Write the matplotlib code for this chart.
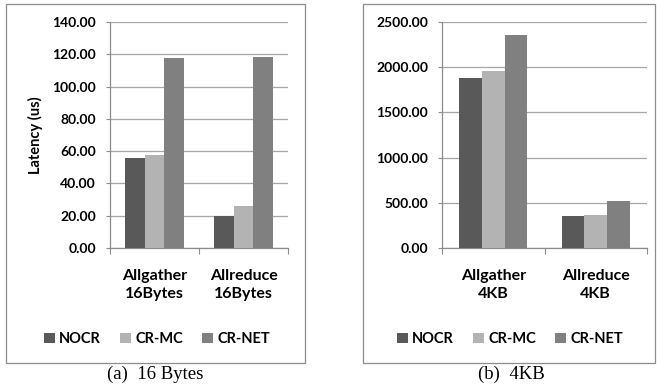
import matplotlib
matplotlib.use("Agg")
import matplotlib.pyplot as plt
import numpy as np
from matplotlib.patches import Rectangle
from matplotlib.ticker import FormatStrFormatter

# Data
series = ["NOCR", "CR-MC", "CR-NET"]
colors = ["#595959", "#b3b3b3", "#808080"]

cats_a = ["Allgather\n16Bytes", "Allreduce\n16Bytes"]
nocr_a = [56.0, 19.6]
crmc_a = [57.9, 26.1]
crnet_a = [117.8, 118.3]

cats_b = ["Allgather\n4KB", "Allreduce\n4KB"]
nocr_b = [1875, 357]
crmc_b = [1963, 368]
crnet_b = [2353, 522]

plt.rcParams["font.family"] = ["Lato", "DejaVu Sans"]
plt.rcParams["font.weight"] = "bold"

W, H = 657, 388
fig = plt.figure(figsize=(W / 100, H / 100), dpi=100)


def px(x0, y0, x1, y1):
    # pixel box (top-left origin) -> figure fraction rect
    return [x0 / W, 1 - y1 / H, (x1 - x0) / W, (y1 - y0) / H]


def panel(rect, cats, values, ymax, step, ylabel=None):
    ax = fig.add_axes(rect)
    x = np.arange(len(cats)) + 0.5
    bw = 0.222
    for i, (vals, name, c) in enumerate(zip(values, series, colors)):
        ax.bar(x + (i - 1) * bw, vals, width=bw, color=c, label=name, zorder=3)
    ax.set_xlim(0, len(cats))
    ax.set_ylim(0, ymax)
    ax.set_yticks(np.arange(0, ymax + step / 2, step))
    ax.yaxis.set_major_formatter(FormatStrFormatter("%.2f"))
    ax.grid(axis="y", color="#a6a6a6", linewidth=0.9, zorder=0)
    for s in ["top", "right"]:
        ax.spines[s].set_visible(False)
    for s in ["left", "bottom"]:
        ax.spines[s].set_color("#8c8c8c")
        ax.spines[s].set_linewidth(0.9)
    # category boundaries get the tick marks, names sit between them
    ax.set_xticks(np.arange(len(cats) + 1))
    ax.set_xticklabels([])
    ax.set_xticks(x, minor=True)
    ax.set_xticklabels(cats, minor=True, fontsize=11.5, fontweight="bold",
                       linespacing=1.35)
    ax.tick_params(axis="x", which="major", length=4, color="#8c8c8c")
    ax.tick_params(axis="x", which="minor", length=0, pad=15)
    ax.tick_params(axis="y", length=3, color="#8c8c8c", labelsize=10, pad=7)
    if ylabel:
        ax.set_ylabel(ylabel, fontsize=10.5, fontweight="bold")
        ax.yaxis.set_label_coords(-0.375, 0.5)
    return ax


ax1 = panel(px(110, 22, 288, 248), cats_a, [nocr_a, crmc_a, crnet_a], 140, 20,
            "Latency (us)")
ax2 = panel(px(442, 22, 647, 248), cats_b, [nocr_b, crmc_b, crnet_b], 2500, 500)

# frames around each panel
for (x0, x1) in [(6, 305), (363, 655)]:
    r = px(x0, 4, x1, 363)
    fig.patches.append(Rectangle((r[0], r[1]), r[2], r[3], transform=fig.transFigure,
                                 fill=False, edgecolor="#8c8c8c", linewidth=0.9))

# legends
for ax, cx in [(ax1, 157), (ax2, 510)]:
    h, l = ax.get_legend_handles_labels()
    fig.legend(h, l, loc="center", bbox_to_anchor=(cx / W, 1 - 339 / H), ncol=3,
               frameon=False, handlelength=0.75, handleheight=0.75,
               handletextpad=0.3, columnspacing=1.3,
               prop={"weight": "bold", "size": 10.5})

# captions
fig.text(155 / W, 1 - 374 / H, "(a)  16 Bytes", ha="center", va="center",
         family="Liberation Serif", fontweight="normal", fontsize=13.5)
fig.text(511 / W, 1 - 374 / H, "(b)  4KB", ha="center", va="center",
         family="Liberation Serif", fontweight="normal", fontsize=13.5)

fig.savefig("out.png", dpi=100)
